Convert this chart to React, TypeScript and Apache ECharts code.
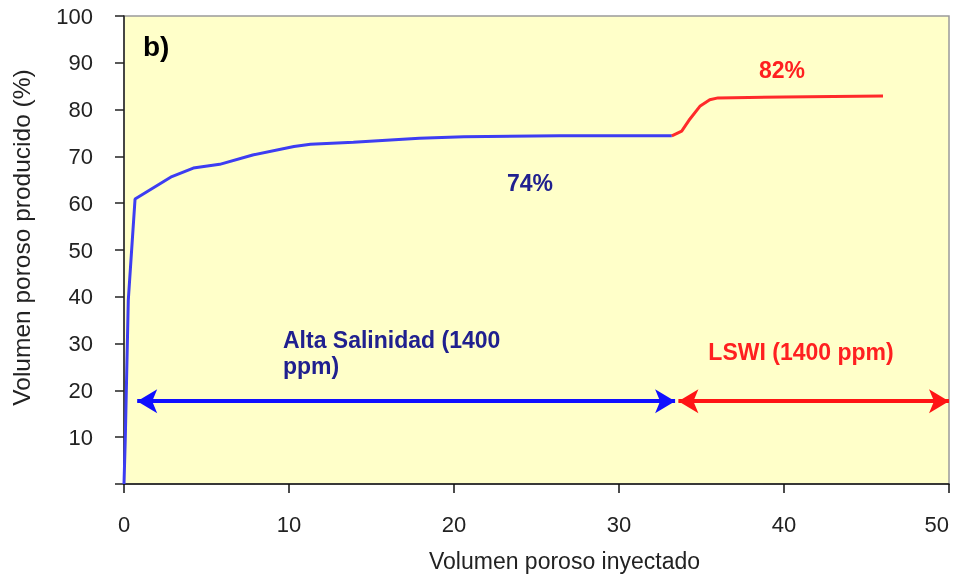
import React, { useEffect, useRef } from "react";
import * as echarts from "echarts";

const highSalinityX = [0, 0.08, 0.26, 0.67, 2.9, 4.2, 5.8, 7.8, 10.3, 11.3, 13.9, 17.9, 20.6, 26.4, 33.2];
const highSalinityY = [0, 10, 39.3, 60.9, 65.7, 67.5, 68.3, 70.3, 72.1, 72.6, 73.0, 73.9, 74.2, 74.4, 74.4];
const lswiX = [33.2, 33.8, 34.3, 34.9, 35.5, 36.0, 40.0, 46.0];
const lswiY = [74.4, 75.4, 78.0, 80.7, 82.1, 82.5, 82.7, 82.9];

const arrowY = 17.7;
const blueArrowX = [0.8, 33.4];
const redArrowX = [33.6, 50];

const xTicks = [0, 10, 20, 30, 40, 50];
const yTicks = [0, 10, 20, 30, 40, 50, 60, 70, 80, 90, 100];

const FONT = "'Liberation Sans', Arial, sans-serif";

export default function App() {
  const ref = useRef<HTMLDivElement>(null);
  useEffect(() => {
    if (!ref.current) return;
    const chart = echarts.init(ref.current, null, { renderer: "svg" });
    const pair = (xs: number[], ys: number[]) => xs.map((x, i) => [x, ys[i]]);
    chart.setOption({
      animation: false,
      textStyle: { fontFamily: FONT },
      grid: {
        left: 124,
        right: 11,
        top: 16,
        bottom: 91,
        outerBoundsMode: "none",
        containLabel: false,
        show: true,
        backgroundColor: "#FFFFC9",
        borderColor: "#9a9a9a",
        borderWidth: 1.5,
      },
      xAxis: {
        type: "value",
        min: xTicks[0],
        max: xTicks[xTicks.length - 1],
        interval: 10,
        name: "Volumen poroso inyectado",
        nameLocation: "middle",
        nameGap: 65,
        nameTextStyle: { fontSize: 23, color: "#222", fontFamily: FONT, padding: [0, 0, 0, 56] },
        axisLine: { show: true, onZero: false, lineStyle: { color: "#111", width: 1.5 } },
        axisTick: { show: true, inside: false, length: 9, lineStyle: { color: "#111", width: 1.5 } },
        axisLabel: { fontSize: 22, color: "#222", margin: 29, fontFamily: FONT, alignMaxLabel: "right" },
        splitLine: { show: false },
      },
      yAxis: {
        type: "value",
        min: yTicks[0],
        max: yTicks[yTicks.length - 1],
        interval: 10,
        name: "Volumen poroso producido (%)",
        nameLocation: "middle",
        nameGap: 90,
        nameRotate: 90,
        nameTextStyle: { fontSize: 24.5, color: "#222", fontFamily: FONT, padding: [0, 0, 0, 25] },
        axisLine: { show: true, onZero: false, lineStyle: { color: "#222", width: 1.5 } },
        axisTick: { show: true, inside: false, length: 9, lineStyle: { color: "#222", width: 1.5 } },
        axisLabel: {
          fontSize: 22,
          color: "#222",
          margin: 31,
          fontFamily: FONT,
          formatter: (v: number) => (v === 0 ? "" : String(v)),
        },
        splitLine: { show: false },
      },
      series: [
        {
          name: "Alta Salinidad",
          type: "line",
          data: pair(highSalinityX, highSalinityY),
          showSymbol: false,
          lineStyle: { color: "#3d3df2", width: 3 },
          z: 3,
        },
        {
          name: "LSWI",
          type: "line",
          data: pair(lswiX, lswiY),
          showSymbol: false,
          lineStyle: { color: "#ff2a2a", width: 3 },
          z: 3,
        },
        {
          name: "arrows",
          type: "line",
          data: [],
          markLine: {
            silent: true,
            symbol: ["arrow", "arrow"],
            symbolSize: [18, 20],
            label: { show: false },
            data: [
              [
                { coord: [blueArrowX[0], arrowY], lineStyle: { color: "#1010ff", width: 4, type: "solid" } },
                { coord: [blueArrowX[1], arrowY] },
              ],
              [
                { coord: [redArrowX[0], arrowY], lineStyle: { color: "#ff1414", width: 4, type: "solid" } },
                { coord: [redArrowX[1], arrowY] },
              ],
            ],
          },
        },
      ],
      graphic: [
        {
          type: "text",
          left: 143,
          top: 32,
          style: { text: "b)", fontSize: 28, fontWeight: "bold", fill: "#000", fontFamily: FONT },
        },
        {
          type: "text",
          x: 530,
          y: 183,
          style: {
            text: "74%",
            fontSize: 23,
            fontWeight: "bold",
            fill: "#20208f",
            fontFamily: FONT,
            align: "center",
            verticalAlign: "middle",
          },
        },
        {
          type: "text",
          x: 782,
          y: 70,
          style: {
            text: "82%",
            fontSize: 23,
            fontWeight: "bold",
            fill: "#ff2020",
            fontFamily: FONT,
            align: "center",
            verticalAlign: "middle",
          },
        },
        {
          type: "text",
          x: 283,
          y: 327,
          style: {
            text: "Alta Salinidad (1400\nppm)",
            fontSize: 23,
            lineHeight: 26,
            fontWeight: "bold",
            fill: "#20208f",
            fontFamily: FONT,
            align: "left",
            verticalAlign: "top",
          },
        },
        {
          type: "text",
          x: 801,
          y: 352,
          style: {
            text: "LSWI (1400 ppm)",
            fontSize: 23,
            fontWeight: "bold",
            fill: "#ff2020",
            fontFamily: FONT,
            align: "center",
            verticalAlign: "middle",
          },
        },
      ],
    });
    return () => chart.dispose();
  }, []);
  return (
    <div
      ref={ref}
      style={{ position: "fixed", left: 0, top: 0, width: 960, height: 575 }}
    />
  );
}
